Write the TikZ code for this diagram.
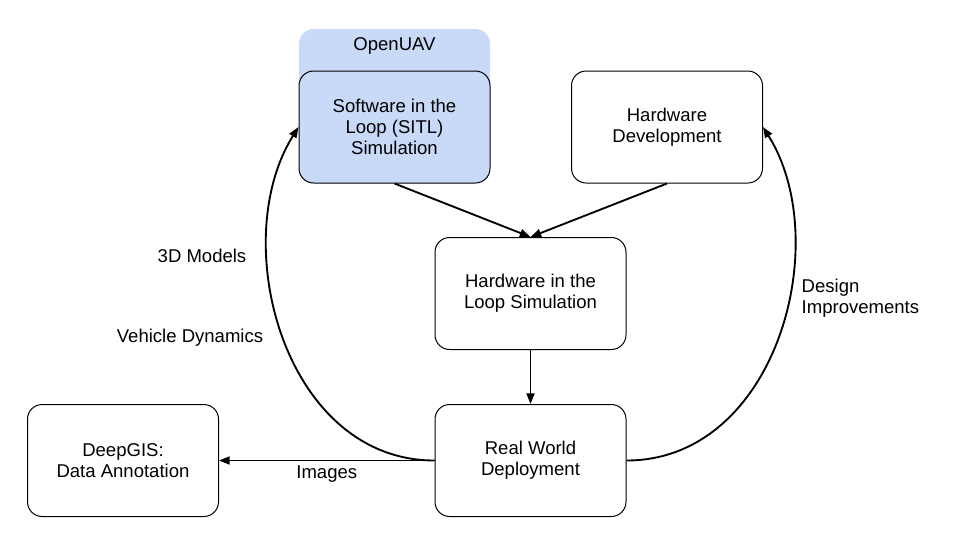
\documentclass[tikz,border=0pt]{standalone}
\usepackage{fontspec}
\setmainfont{Liberation Sans}
\usetikzlibrary{arrows.meta}
\definecolor{uavblue}{HTML}{C9DAF8}
\tikzset{blk/.style={draw,rounded corners=11pt,minimum width=143.25pt,minimum height=84pt,align=center,line width=0.75pt,font=\fontsize{13.9}{16}\selectfont},
lnk/.style={-{Triangle[length=8pt,width=6pt]},line width=1.4pt},
lbl/.style={font=\fontsize{13.9}{16}\selectfont}}

\begin{document}
\begin{tikzpicture}[x=0.75pt,y=-0.75pt]
\useasboundingbox (0,0) rectangle (960,540);
\node[fill=uavblue,rounded corners=11pt,minimum width=143.25pt,minimum height=115.5pt] (uav) at (394.5,106) {};
\node[lbl] (uavname) at (394.5,46) {OpenUAV};
\node[blk,fill=uavblue] (sitl) at (394.5,127) {Software in the\\Loop (SITL)\\Simulation};
\node[blk] (hwdev) at (667,127) {Hardware\\Development};
\node[blk] (hitl) at (530.5,293.5) {Hardware in the\\Loop Simulation};
\node[blk] (rwd) at (530.5,460.5) {Real World\\Deployment};
\node[blk] (deepgis) at (123,460.5) {DeepGIS:\\Data Annotation};
\draw[lnk] (sitl.south) -- (hitl.north); \draw[lnk] (hwdev.south) -- (hitl.north); \draw[lnk] (hitl) -- (rwd);
\draw[lnk] (rwd.west) -- (deepgis.east) node[lbl,midway,below]{Images};
\draw[lnk] (rwd.west) .. controls +(-150,0) and +(-72,115) .. (sitl.west);
\draw[lnk] (rwd.east) .. controls +(150,0) and +(72,115) .. (hwdev.east);
\node[lbl] (models) at (202,256) {3D Models};
\node[lbl] (dynamics) at (190,338) {Vehicle Dynamics};
\node[lbl,anchor=west,align=left] (design) at (797,298) {Design\\Improvements};
\end{tikzpicture}
\end{document}
